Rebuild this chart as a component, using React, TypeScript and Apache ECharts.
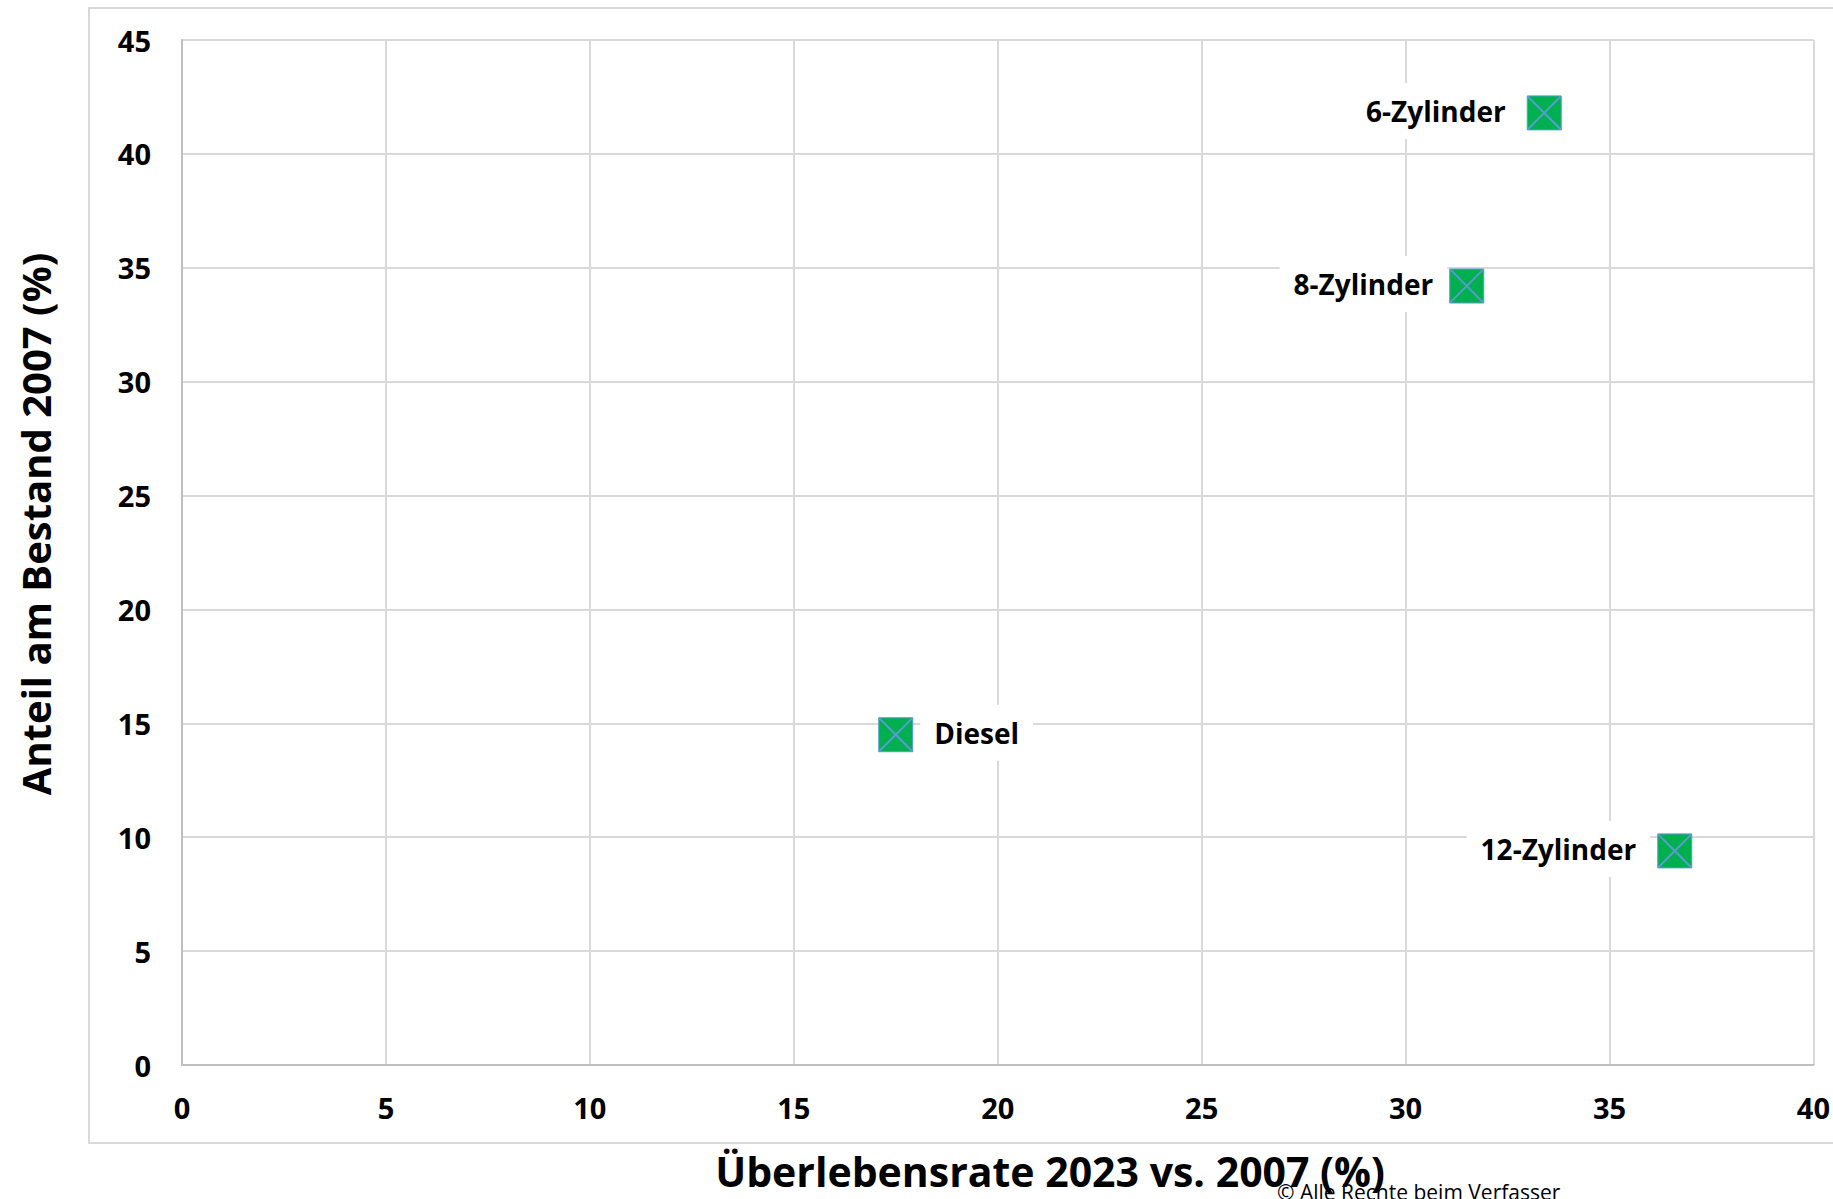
import React, { useEffect, useRef } from "react";
import * as echarts from "echarts";

const names = ["6-Zylinder", "8-Zylinder", "Diesel", "12-Zylinder"];
const survivalRate = [33.4, 31.5, 17.5, 36.6];
const shareOfStock = [41.8, 34.2, 14.5, 9.4];
const xTicks = [0, 5, 10, 15, 20, 25, 30, 35, 40];
const yTicks = [0, 5, 10, 15, 20, 25, 30, 35, 40, 45];

const xTitle = "Überlebensrate 2023 vs. 2007 (%)";
const yTitle = "Anteil am Bestand 2007 (%)";
const copyright = "© Alle Rechte beim Verfasser";

const FONT = "'Open Sans', 'Noto Sans', sans-serif";
const X_PATH =
  "path://M0,0 L4,0 L100,96 L100,100 L96,100 L0,4 Z M100,0 L100,4 L4,100 L0,100 L0,96 L96,0 Z";

export default function App() {
  const ref = useRef<HTMLDivElement>(null);
  useEffect(() => {
    if (!ref.current) return;
    const chart = echarts.init(ref.current, null, { renderer: "svg" });
    const points = names.map((n, i) => ({
      name: n,
      value: [survivalRate[i], shareOfStock[i]],
      label: {
        position: n === "Diesel" ? "right" : "left",
        distance: n === "8-Zylinder" ? 2 : 7,
      },
    }));
    const option: any = {
      animation: false,
      backgroundColor: "#ffffff",
      grid: { left: 182, top: 40, right: 18, bottom: 134, containLabel: false },
      xAxis: {
        type: "value",
        min: xTicks[0],
        max: xTicks[xTicks.length - 1],
        interval: 5,
        axisLine: { show: true, lineStyle: { color: "#bfbfbf", width: 2 } },
        axisTick: { show: false },
        splitLine: { show: true, lineStyle: { color: "#d9d9d9", width: 2 } },
        axisLabel: {
          color: "#000",
          fontFamily: FONT,
          fontWeight: "bold",
          fontSize: 29,
          margin: 28,
        },
      },
      yAxis: {
        type: "value",
        min: yTicks[0],
        max: yTicks[yTicks.length - 1],
        interval: 5,
        axisLine: { show: true, lineStyle: { color: "#bfbfbf", width: 2 } },
        axisTick: { show: false },
        splitLine: { show: true, lineStyle: { color: "#d9d9d9", width: 2 } },
        axisLabel: {
          color: "#000",
          fontFamily: FONT,
          fontWeight: "bold",
          fontSize: 29,
          margin: 31,
        },
      },
      series: [
        {
          type: "scatter",
          symbol: "rect",
          symbolSize: 34,
          z: 3,
          itemStyle: { color: "#00b050", borderColor: "#5b9bd5", borderWidth: 1, opacity: 1 },
          label: {
            show: true,
            formatter: "{b}",
            color: "#000",
            fontFamily: FONT,
            fontWeight: "bold",
            fontSize: 28,
            backgroundColor: "#ffffff",
            padding: [14, 14, 14, 14],
            offset: [0, -2],
          },
          data: points,
        },
        {
          type: "scatter",
          symbol: X_PATH,
          symbolSize: 34,
          z: 4,
          silent: true,
          itemStyle: { color: "#5b9bd5", opacity: 1 },
          label: { show: false },
          data: names.map((n, i) => ({ name: n, value: [survivalRate[i], shareOfStock[i]] })),
        },
      ],
      graphic: [
        {
          type: "rect",
          z: -1,
          silent: true,
          shape: { x: 89, y: 8, width: 1800, height: 1135 },
          style: { fill: "none", stroke: "#d9d9d9", lineWidth: 2 },
        },
        {
          type: "text",
          x: 1050,
          y: 1171,
          style: {
            text: xTitle,
            fill: "#000",
            font: `bold 41px ${FONT}`,
            textAlign: "center",
            textVerticalAlign: "middle",
          },
        },
        {
          type: "text",
          x: 35,
          y: 524,
          rotation: Math.PI / 2,
          style: {
            text: yTitle,
            fill: "#000",
            font: `bold 40px ${FONT}`,
            textAlign: "center",
            textVerticalAlign: "middle",
          },
        },
        {
          type: "text",
          x: 1277,
          y: 1192,
          z: 10,
          style: {
            text: copyright,
            fill: "#000",
            font: `21px ${FONT}`,
            textAlign: "left",
            textVerticalAlign: "middle",
          },
        },
      ],
    };
    chart.setOption(option);
    return () => chart.dispose();
  }, []);
  return (
    <div
      ref={ref}
      style={{ position: "fixed", left: 0, top: 0, width: 1833, height: 1199 }}
    />
  );
}
